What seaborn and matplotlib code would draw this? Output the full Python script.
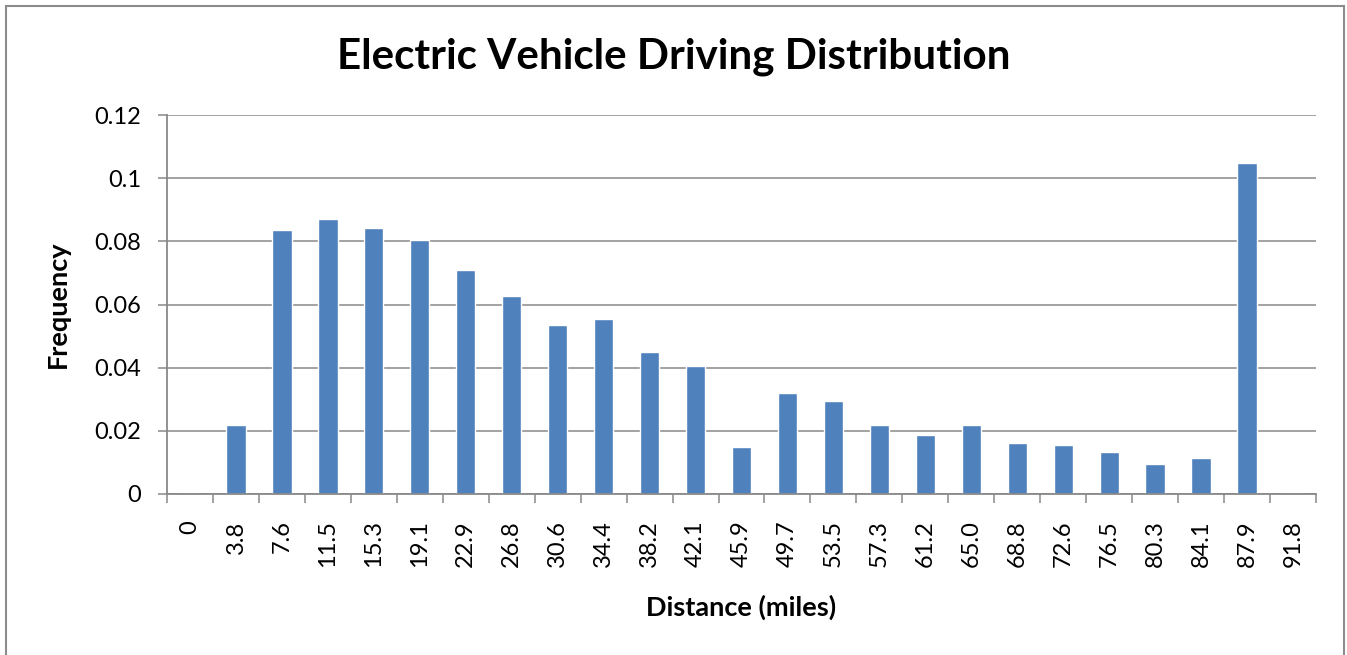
import matplotlib
matplotlib.use("Agg")
import matplotlib.pyplot as plt
import seaborn as sns
import pandas as pd
from matplotlib.patches import Rectangle
from matplotlib.ticker import FixedLocator, FixedFormatter

# ---- data ----
distance_labels = ["0", "3.8", "7.6", "11.5", "15.3", "19.1", "22.9", "26.8", "30.6",
                   "34.4", "38.2", "42.1", "45.9", "49.7", "53.5", "57.3", "61.2",
                   "65.0", "68.8", "72.6", "76.5", "80.3", "84.1", "87.9", "91.8"]
frequency = [0.0, 0.0217, 0.0835, 0.0872, 0.0842, 0.0805, 0.0708, 0.0626, 0.0535,
             0.0554, 0.0449, 0.0406, 0.0150, 0.0320, 0.0296, 0.0217, 0.0187,
             0.0217, 0.0160, 0.0156, 0.0132, 0.0095, 0.0113, 0.1049, 0.0]
ytick_values = [0, 0.02, 0.04, 0.06, 0.08, 0.10, 0.12]
ytick_labels = ["0", "0.02", "0.04", "0.06", "0.08", "0.1", "0.12"]

title = "Electric Vehicle Driving Distribution"
xlabel = "Distance (miles)"
ylabel = "Frequency"

sns.set_theme(style="white")
plt.rcParams["font.family"] = ["Lato", "DejaVu Sans"]

BAR = "#4F81BD"
GRID = "#898989"

df = pd.DataFrame({"distance": distance_labels, "frequency": frequency})

W, H = 1347, 655
fig = plt.figure(figsize=(W / 100, H / 100), dpi=100)
fig.patch.set_facecolor("white")
ax = fig.add_axes([167 / W, 1 - 494 / H, (1316 - 167) / W, (494 - 115) / H])

sns.barplot(data=df, x="distance", y="frequency", order=distance_labels,
            color=BAR, saturation=1, width=0.42, ax=ax, zorder=3)

ax.set_xlim(-0.5, len(distance_labels) - 0.5)
ax.set_ylim(0, 0.12)

ax.yaxis.set_major_locator(FixedLocator(ytick_values))
ax.yaxis.set_major_formatter(FixedFormatter(ytick_labels))
ax.grid(axis="y", color=GRID, linewidth=1.1, zorder=0)
ax.grid(axis="x", visible=False)

for s in ["top", "right"]:
    ax.spines[s].set_visible(False)
for s in ["left", "bottom"]:
    ax.spines[s].set_color(GRID)
    ax.spines[s].set_linewidth(1.3)
    ax.spines[s].set_zorder(4)

ax.tick_params(axis="y", which="major", length=6.5, width=1.1, color=GRID,
               direction="out", left=True, pad=12, labelsize=17, labelcolor="black")
ax.tick_params(axis="x", which="major", length=0, pad=19, labelsize=17,
               labelcolor="black", labelrotation=90)
ax.set_xticks([i - 0.5 for i in range(len(distance_labels) + 1)], minor=True)
ax.tick_params(axis="x", which="minor", length=6.5, width=1.1, color=GRID,
               direction="out", bottom=True)
for lab in ax.get_xticklabels():
    lab.set_va("top")
    lab.set_ha("center")

ax.set_xlabel(xlabel, fontsize=19.5, fontweight="bold", color="black")
ax.xaxis.label.set_va("center")
ax.xaxis.set_label_coords(0.5, -(607 - 494) / (494 - 115))
ax.set_ylabel(ylabel, fontsize=19.5, fontweight="bold", color="black")
ax.yaxis.label.set_va("center")
ax.yaxis.set_label_coords((58 - 167) / (1316 - 167), 0.5)

fig.text(0.5, 1 - 57 / H, title, ha="center", va="center",
         fontsize=30.3, fontweight="bold", color="black")

# chart border
fig.patches.append(Rectangle((6.5 / W, -0.01), (1344 - 6.5) / W, 1 - 6 / H + 0.01,
                             transform=fig.transFigure, fill=False,
                             edgecolor="#8c8c8c", linewidth=1.5))

fig.savefig("out.png", dpi=100, facecolor="white")
